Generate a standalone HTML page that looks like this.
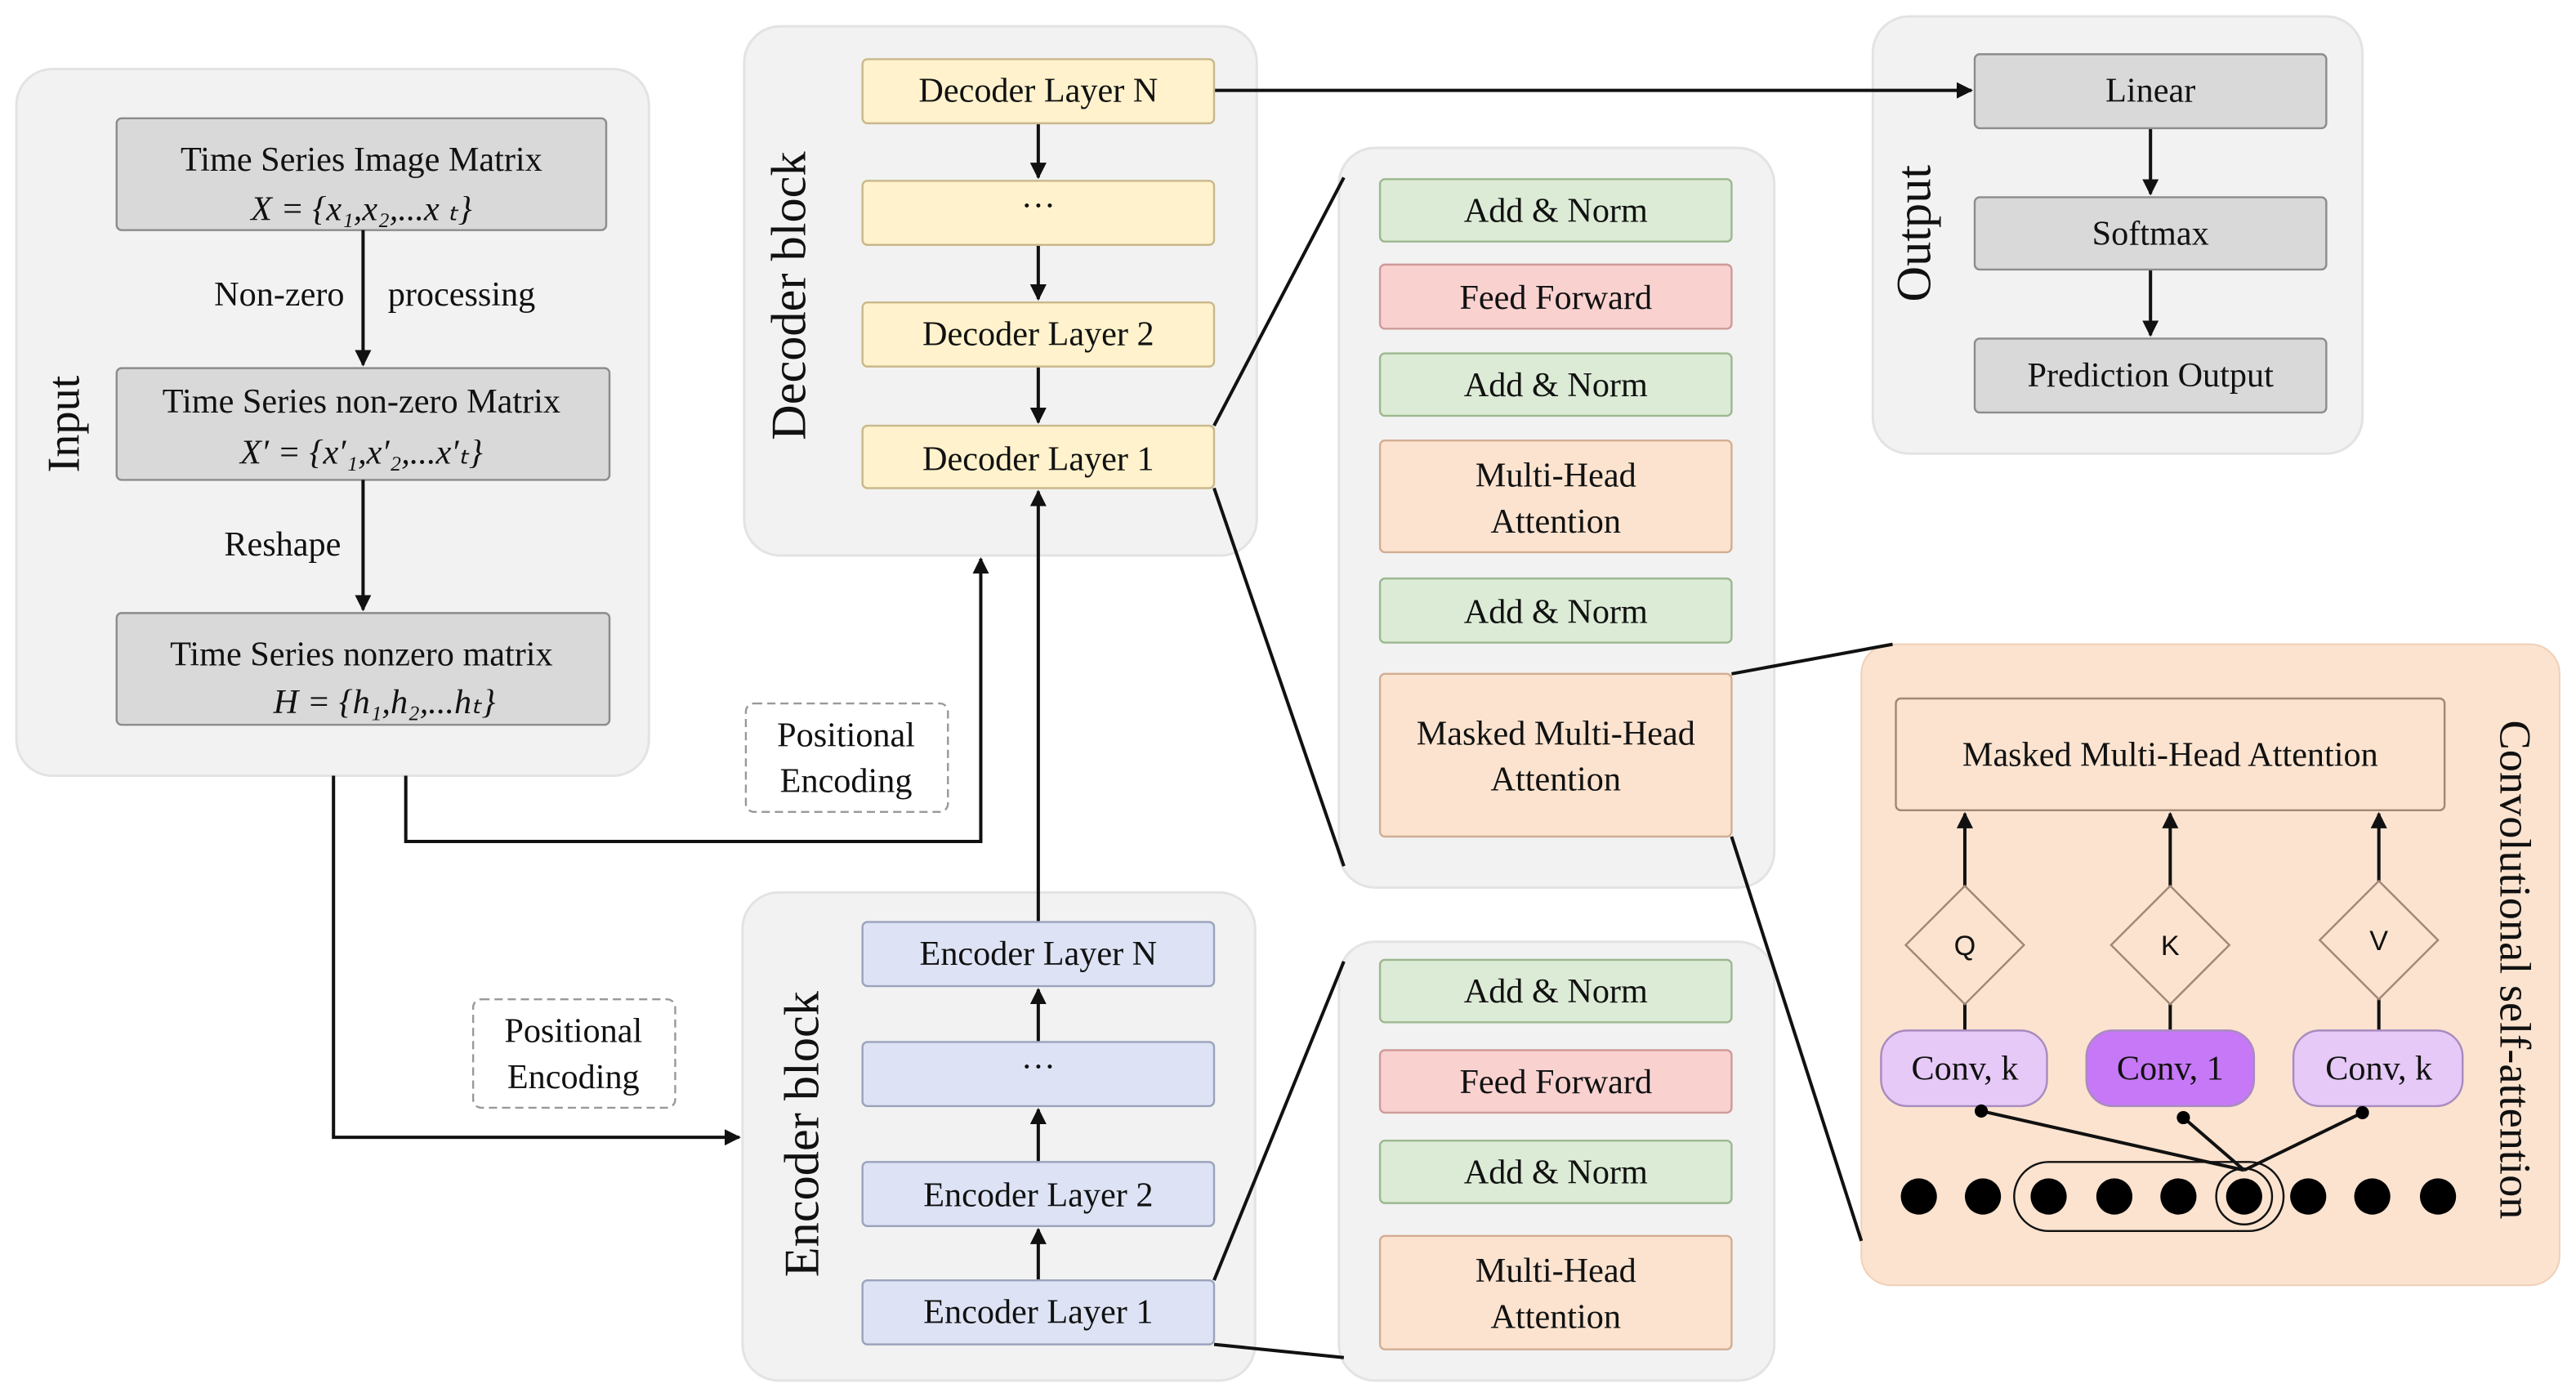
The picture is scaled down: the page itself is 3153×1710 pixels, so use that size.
<!DOCTYPE html>
<html><head><meta charset="utf-8"><style>
html,body{margin:0;padding:0;background:#fff;}
svg{display:block;}
text{font-family:"Liberation Serif",serif;fill:#111;}
</style></head><body>
<svg width="3153" height="1710" viewBox="0 0 1568 850" preserveAspectRatio="none" xmlns="http://www.w3.org/2000/svg">
<defs>
<marker id="ar" markerWidth="10" markerHeight="10" refX="9" refY="5" orient="auto" markerUnits="userSpaceOnUse" viewBox="0 0 10 10">
<path d="M0,0 L10,5 L0,10 z" fill="#111"/></marker>
</defs>
<g stroke="#e3e3e3" stroke-width="1.5" fill="#f2f2f2">
<rect x="10" y="42" width="385" height="430" rx="22"/>
<rect x="453" y="16" width="312" height="322" rx="22"/>
<rect x="452" y="543" width="312" height="297" rx="22"/>
<rect x="815" y="90" width="265" height="450" rx="22"/>
<rect x="815" y="573" width="265" height="267" rx="22"/>
<rect x="1140" y="10" width="298" height="266" rx="22"/>
</g>
<rect x="1133" y="392" width="425" height="390" rx="18" fill="#fbe3cf" stroke="#f0d0b8"/>
<!-- Input -->
<text transform="translate(48,258) rotate(-90)" font-size="28" text-anchor="middle">Input</text>
<g fill="#d9d9d9" stroke="#8c8c8c" stroke-width="1.2">
<rect x="71" y="72" width="298" height="68" rx="3"/>
<rect x="71" y="224" width="300" height="68" rx="3"/>
<rect x="71" y="373" width="300" height="68" rx="3"/>
</g>
<g font-size="21" text-anchor="middle">
<text x="220" y="104">Time Series Image Matrix</text>
<text x="220" y="134" font-style="italic">X = {x₁,x₂,...x ₜ}</text>
<text x="220" y="251">Time Series non-zero Matrix</text>
<text x="220" y="282" font-style="italic">X′ = {x′₁,x′₂,...x′ₜ}</text>
<text x="220" y="405">Time Series nonzero matrix</text>
<text x="234" y="434" font-style="italic">H = {h₁,h₂,...hₜ}</text>
<text x="170" y="186">Non-zero</text>
<text x="281" y="186">processing</text>
<text x="172" y="338">Reshape</text>
</g>
<g stroke="#111" stroke-width="2" fill="none">
<line x1="221" y1="140" x2="221" y2="222" marker-end="url(#ar)"/>
<line x1="221" y1="292" x2="221" y2="371" marker-end="url(#ar)"/>
<polyline points="203,472 203,692 450,692" marker-end="url(#ar)"/>
<polyline points="247,472 247,512 597,512 597,340" marker-end="url(#ar)"/>
<line x1="632" y1="561" x2="632" y2="299" marker-end="url(#ar)"/>
<line x1="632" y1="75" x2="632" y2="108" marker-end="url(#ar)"/>
<line x1="632" y1="149" x2="632" y2="182" marker-end="url(#ar)"/>
<line x1="632" y1="223" x2="632" y2="257" marker-end="url(#ar)"/>
<line x1="632" y1="634" x2="632" y2="602" marker-end="url(#ar)"/>
<line x1="632" y1="707" x2="632" y2="675" marker-end="url(#ar)"/>
<line x1="632" y1="779" x2="632" y2="748" marker-end="url(#ar)"/>
<line x1="739" y1="55" x2="1200" y2="55" marker-end="url(#ar)"/>
<line x1="1309" y1="78" x2="1309" y2="118" marker-end="url(#ar)"/>
<line x1="1309" y1="164" x2="1309" y2="204" marker-end="url(#ar)"/>
<line x1="739" y1="259" x2="818" y2="108"/>
<line x1="739" y1="297" x2="818" y2="527"/>
<line x1="739" y1="779" x2="818" y2="585"/>
<line x1="739" y1="818" x2="818" y2="826"/>
<line x1="1054" y1="410" x2="1152" y2="392"/>
<line x1="1054" y1="509" x2="1133" y2="755"/>
</g>
<!-- Positional encoding -->
<g fill="#fff" stroke="#999" stroke-dasharray="5,3" stroke-width="1.2">
<rect x="454" y="428" width="123" height="66" rx="5"/>
<rect x="288" y="608" width="123" height="66" rx="5"/>
</g>
<g font-size="21" text-anchor="middle">
<text x="515" y="454">Positional</text><text x="515" y="482">Encoding</text>
<text x="349" y="634">Positional</text><text x="349" y="662">Encoding</text>
</g>
<!-- Decoder -->
<text transform="translate(490,180) rotate(-90)" font-size="30" text-anchor="middle">Decoder block</text>
<g fill="#fff2cc" stroke="#c9b88a" stroke-width="1.2">
<rect x="525" y="36" width="214" height="39" rx="3"/>
<rect x="525" y="110" width="214" height="39" rx="3"/>
<rect x="525" y="184" width="214" height="39" rx="3"/>
<rect x="525" y="259" width="214" height="38" rx="3"/>
</g>
<g font-size="21" text-anchor="middle">
<text x="632" y="62">Decoder Layer N</text>
<text x="632" y="132">···</text>
<text x="632" y="210">Decoder Layer 2</text>
<text x="632" y="286">Decoder Layer 1</text>
</g>
<!-- Encoder -->
<text transform="translate(498,690) rotate(-90)" font-size="30" text-anchor="middle">Encoder block</text>
<g fill="#dde3f5" stroke="#9aa3bb" stroke-width="1.2">
<rect x="525" y="561" width="214" height="39" rx="3"/>
<rect x="525" y="634" width="214" height="39" rx="3"/>
<rect x="525" y="707" width="214" height="39" rx="3"/>
<rect x="525" y="779" width="214" height="39" rx="3"/>
</g>
<g font-size="21" text-anchor="middle">
<text x="632" y="587">Encoder Layer N</text>
<text x="632" y="656">···</text>
<text x="632" y="734">Encoder Layer 2</text>
<text x="632" y="805">Encoder Layer 1</text>
</g>
<!-- Detail panels -->
<g stroke-width="1.2">
<rect x="840" y="109" width="214" height="38" rx="3" fill="#dcebd5" stroke="#9cb890"/>
<rect x="840" y="161" width="214" height="39" rx="3" fill="#f9d2d0" stroke="#cf9a98"/>
<rect x="840" y="215" width="214" height="38" rx="3" fill="#dcebd5" stroke="#9cb890"/>
<rect x="840" y="268" width="214" height="68" rx="3" fill="#fbe3cf" stroke="#d3ad93"/>
<rect x="840" y="352" width="214" height="39" rx="3" fill="#dcebd5" stroke="#9cb890"/>
<rect x="840" y="410" width="214" height="99" rx="3" fill="#fbe3cf" stroke="#d3ad93"/>
<rect x="840" y="584" width="214" height="38" rx="3" fill="#dcebd5" stroke="#9cb890"/>
<rect x="840" y="639" width="214" height="38" rx="3" fill="#f9d2d0" stroke="#cf9a98"/>
<rect x="840" y="694" width="214" height="38" rx="3" fill="#dcebd5" stroke="#9cb890"/>
<rect x="840" y="752" width="214" height="69" rx="3" fill="#fbe3cf" stroke="#d3ad93"/>
</g>
<g font-size="21" text-anchor="middle">
<text x="947" y="135">Add &amp; Norm</text>
<text x="947" y="188">Feed Forward</text>
<text x="947" y="241">Add &amp; Norm</text>
<text x="947" y="296">Multi-Head</text><text x="947" y="324">Attention</text>
<text x="947" y="379">Add &amp; Norm</text>
<text x="947" y="453">Masked Multi-Head</text><text x="947" y="481">Attention</text>
<text x="947" y="610">Add &amp; Norm</text>
<text x="947" y="665">Feed Forward</text>
<text x="947" y="720">Add &amp; Norm</text>
<text x="947" y="780">Multi-Head</text><text x="947" y="808">Attention</text>
</g>
<!-- Output -->
<text transform="translate(1175,142) rotate(-90)" font-size="30" text-anchor="middle">Output</text>
<g fill="#d9d9d9" stroke="#8c8c8c" stroke-width="1.2">
<rect x="1202" y="33" width="214" height="45" rx="3"/>
<rect x="1202" y="120" width="214" height="44" rx="3"/>
<rect x="1202" y="206" width="214" height="45" rx="3"/>
</g>
<g font-size="21" text-anchor="middle">
<text x="1309" y="62">Linear</text>
<text x="1309" y="149">Softmax</text>
<text x="1309" y="235">Prediction Output</text>
</g>
<!-- Conv self-attention -->
<text transform="translate(1522,590) rotate(90)" font-size="27" text-anchor="middle">Convolutional self-attention</text>
<rect x="1154" y="425" width="334" height="68" rx="3" fill="#fbe3cf" stroke="#a08878" stroke-width="1.2"/>
<text x="1321" y="466" font-size="21" text-anchor="middle">Masked Multi-Head Attention</text>
<g stroke="#111" stroke-width="2" fill="none">
<line x1="1196" y1="539" x2="1196" y2="495" marker-end="url(#ar)"/>
<line x1="1321" y1="539" x2="1321" y2="495" marker-end="url(#ar)"/>
<line x1="1448" y1="536" x2="1448" y2="495" marker-end="url(#ar)"/>
<line x1="1196" y1="611" x2="1196" y2="627"/>
<line x1="1321" y1="611" x2="1321" y2="627"/>
<line x1="1448" y1="608" x2="1448" y2="627"/>
<line x1="1206" y1="676" x2="1366" y2="712"/>
<line x1="1329" y1="680" x2="1366" y2="712"/>
<line x1="1438" y1="677" x2="1366" y2="712"/>
</g>
<g fill="#fbe3cf" stroke="#a08878" stroke-width="1.2">
<polygon points="1196,539 1232,575 1196,611 1160,575"/>
<polygon points="1321,539 1357,575 1321,611 1285,575"/>
<polygon points="1448,536 1484,572 1448,608 1412,572"/>
</g>
<g font-family="Liberation Sans,sans-serif" font-size="17" text-anchor="middle">
<text x="1196" y="581" style="font-family:'Liberation Sans',sans-serif">Q</text>
<text x="1321" y="581" style="font-family:'Liberation Sans',sans-serif">K</text>
<text x="1448" y="578" style="font-family:'Liberation Sans',sans-serif">V</text>
</g>
<g stroke="#a88bbf" stroke-width="1.2">
<rect x="1145" y="627" width="101" height="46" rx="16" fill="#e6c9f7"/>
<rect x="1270" y="627" width="102" height="46" rx="16" fill="#c678f7"/>
<rect x="1396" y="627" width="103" height="46" rx="16" fill="#e6c9f7"/>
</g>
<g font-size="21" text-anchor="middle">
<text x="1196" y="657">Conv, k</text>
<text x="1321" y="657">Conv, 1</text>
<text x="1448" y="657">Conv, k</text>
</g>
<g fill="#000">
<circle cx="1206" cy="676" r="4"/><circle cx="1329" cy="680" r="4"/><circle cx="1438" cy="677" r="4"/>
</g>
<rect x="1226" y="707" width="164" height="42" rx="21" fill="none" stroke="#111" stroke-width="1.2"/>
<circle cx="1366" cy="728" r="17" fill="none" stroke="#111" stroke-width="1.2"/>
<g fill="#000">
<circle cx="1168" cy="728" r="11"/><circle cx="1207" cy="728" r="11"/><circle cx="1247" cy="728" r="11"/>
<circle cx="1287" cy="728" r="11"/><circle cx="1326" cy="728" r="11"/><circle cx="1366" cy="728" r="11"/>
<circle cx="1405" cy="728" r="11"/><circle cx="1444" cy="728" r="11"/><circle cx="1484" cy="728" r="11"/>
</g>
</svg>
</body></html>
